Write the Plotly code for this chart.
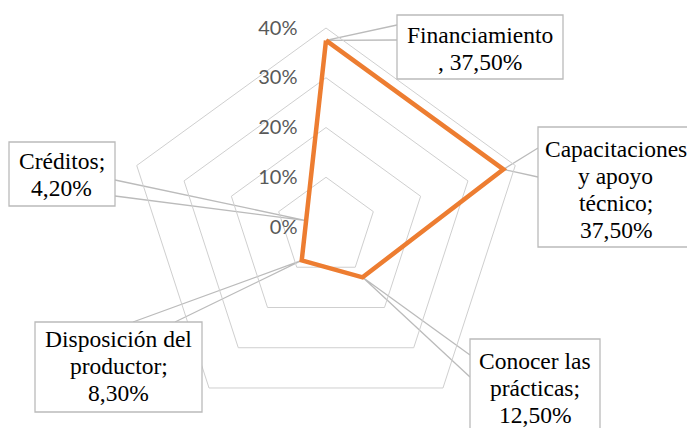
import math
import plotly.graph_objects as go

# Data
categories = ["Financiamiento", "Capacitaciones y apoyo técnico", "Conocer las prácticas",
              "Disposición del productor", "Créditos"]
values = [37.5, 37.5, 12.5, 8.3, 4.2]
callout_lines = [
    ["Financiamiento", ", {v}"],
    ["Capacitaciones", "y apoyo", "técnico;", "{v}"],
    ["Conocer las", "prácticas;", "{v}"],
    ["Disposición del", "productor;", "{v}"],
    ["Créditos;", "{v}"],
]
radial_ticks = [0, 10, 20, 30, 40]
radial_tick_labels = ["0%", "10%", "20%", "30%", "40%"]

W, H = 695, 428
OFF = 8  # the page body margin shifts the figure by 8px
ORANGE = "#ED7D31"
GRID = "#CFCFCF"
BOX = "#BBBBBB"

# polar geometry (page pixels)
CX, CY, R = 326, 227, 199
RMAX = 40
LINE_GAP = 27

# callout boxes: (left, top, right, bottom) and wedge base points, page pixels
boxes = [
    (397, 15, 563, 79),
    (538, 127, 693, 247),
    (470, 339, 600, 440),
    (35, 322, 202, 412),
    (9, 142, 115, 206),
]
text_centers = [48, 189, 388, 366, 174]
wedge_bases = [
    ((397, 25), (397, 40)),
    ((538, 148), (538, 177)),
    ((470, 355), (470, 377)),
    ((133, 322), (175, 322)),
    ((115, 180), (115, 196)),
]


def px(x):
    return (x - OFF) / W


def py(y):
    return 1 - (y - OFF) / H


fig = go.Figure()
fig.add_trace(go.Scatterpolar(
    r=values + values[:1],
    theta=categories + categories[:1],
    mode="lines",
    line=dict(color=ORANGE, width=4.5),
    hoverinfo="skip",
))

for i, (lines, v) in enumerate(zip(callout_lines, values)):
    ang = math.radians(90 - i * 360 / len(values))
    ax = CX + v / RMAX * R * math.cos(ang)
    ay = CY - v / RMAX * R * math.sin(ang)
    (b1x, b1y), (b2x, b2y) = wedge_bases[i]
    fig.add_shape(
        type="path",
        xref="paper", yref="paper",
        path=f"M {px(b1x)} {py(b1y)} L {px(ax)} {py(ay)} L {px(b2x)} {py(b2y)}",
        line=dict(color=BOX, width=1.3),
        layer="below",
    )
    left, top, right, bottom = boxes[i]
    fig.add_shape(
        type="rect",
        xref="paper", yref="paper",
        x0=px(left), x1=px(right), y0=py(bottom), y1=py(top),
        line=dict(color=BOX, width=1.3),
        fillcolor="white",
        layer="above",
    )
    label = f"{v:.2f}".replace(".", ",") + "%"
    n = len(lines)
    for k, ln in enumerate(lines):
        yc = text_centers[i] + (k - (n - 1) / 2) * LINE_GAP
        fig.add_annotation(
            xref="paper", yref="paper",
            x=px((left + right) / 2), y=py(yc),
            xanchor="center", yanchor="middle",
            text=ln.format(v=label),
            showarrow=False,
            font=dict(family="Liberation Serif", size=23.5, color="black"),
        )

fig.update_layout(
    width=W, height=H,
    margin=dict(l=0, r=0, t=0, b=0),
    paper_bgcolor="white",
    showlegend=False,
    polar=dict(
        domain=dict(x=[px(CX - R), px(CX + R)], y=[py(CY + R), py(CY - R)]),
        bgcolor="rgba(0,0,0,0)",
        gridshape="linear",
        radialaxis=dict(
            range=[0, RMAX],
            tickmode="array",
            tickvals=radial_ticks,
            ticktext=radial_tick_labels,
            angle=90,
            side="counterclockwise",
            tickangle=90,
            showline=False,
            ticks="outside", ticklen=21, tickcolor="rgba(0,0,0,0)",
            gridcolor=GRID, gridwidth=1,
            tickfont=dict(family="Lato", size=20, color="#595959"),
        ),
        angularaxis=dict(
            rotation=90,
            direction="clockwise",
            showticklabels=False,
            ticks="",
            showgrid=False,
            linecolor=GRID, linewidth=1,
        ),
    ),
)

fig.write_html("out.html")
